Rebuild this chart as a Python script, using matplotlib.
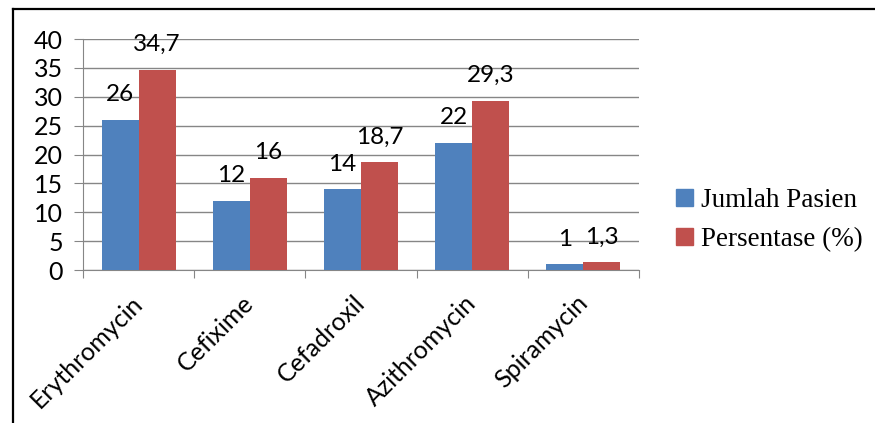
import numpy as np
import matplotlib.pyplot as plt
from matplotlib.lines import Line2D
from matplotlib.patches import Patch

#-------------- Data ---------------------------------------------------------------

obat = ['Erythromycin', 'Cefixime', 'Cefadroxil', 'Azithromycin', 'Spiramycin']
jumlah_pasien = [26, 12, 14, 22, 1]
persentase = [34.7, 16, 18.7, 29.3, 1.3]

c_blue = '#4F81BD'
c_red = '#C0504D'
c_grid = '#868686'

#-------------- Figure -------------------------------------------------------------

plt.rcParams['font.family'] = ['Lato', 'DejaVu Sans']

fig = plt.figure(figsize=(8.75, 4.23), dpi=100)
ax = fig.add_axes([0.0949, 0.3617, 0.6354, 0.5461])

x = np.arange(len(obat))
w = 1/3.

ax.bar(x - w/2, jumlah_pasien, w, color=c_blue, zorder=3)
ax.bar(x + w/2, persentase, w, color=c_red, zorder=3)

def fmt(v):
    return ('%g' % v).replace('.', ',')

for xi, v in zip(x - w/2, jumlah_pasien):
    ax.annotate(fmt(v), (xi, v), xytext=(0, 18), textcoords='offset points',
                ha='center', va='center', fontsize=17.5)
for xi, v in zip(x + w/2, persentase):
    ax.annotate(fmt(v), (xi, v), xytext=(0, 18), textcoords='offset points',
                ha='center', va='center', fontsize=17.5)

ax.set_xlim(-0.5, len(obat) - 0.5)
ax.set_ylim(0, 40)
ax.set_yticks(range(0, 41, 5))
ax.yaxis.grid(True, color=c_grid, lw=1, zorder=0)

# category ticks at the boundaries, labels at the centres
ax.set_xticks(np.arange(-0.5, len(obat), 1))
ax.set_xticklabels([])
ax.set_xticks(x, minor=True)
ax.set_xticklabels(obat, minor=True, rotation=45, ha='right', va='center',
                   rotation_mode='anchor', fontsize=18)
ax.tick_params(axis='x', which='minor', length=0, pad=21)
ax.tick_params(axis='x', which='major', length=6, color=c_grid)
ax.tick_params(axis='y', length=6.5, color=c_grid, pad=8, labelsize=18)

for s in ['top', 'right']:
    ax.spines[s].set_visible(False)
for s in ['left', 'bottom']:
    ax.spines[s].set_color(c_grid)

handles = [Patch(color=c_blue), Patch(color=c_red)]
fig.legend(handles, ['Jumlah Pasien', 'Persentase (%)'], loc='center left',
           bbox_to_anchor=(0.773, 0.48), frameon=False, borderpad=0,
           borderaxespad=0, handlelength=0.6, handleheight=0.6,
           handletextpad=0.3, labelspacing=0.5,
           prop={'family': 'Liberation Serif', 'size': 19.5})

# outer frame (top and left only)
fig.add_artist(Line2D([0.015, 1.0], [0.978, 0.978], color='black', lw=1.6))
fig.add_artist(Line2D([0.015, 0.015], [0.0, 0.978], color='black', lw=1.6))

plt.savefig('out.png', dpi=100)
plt.close('all')
